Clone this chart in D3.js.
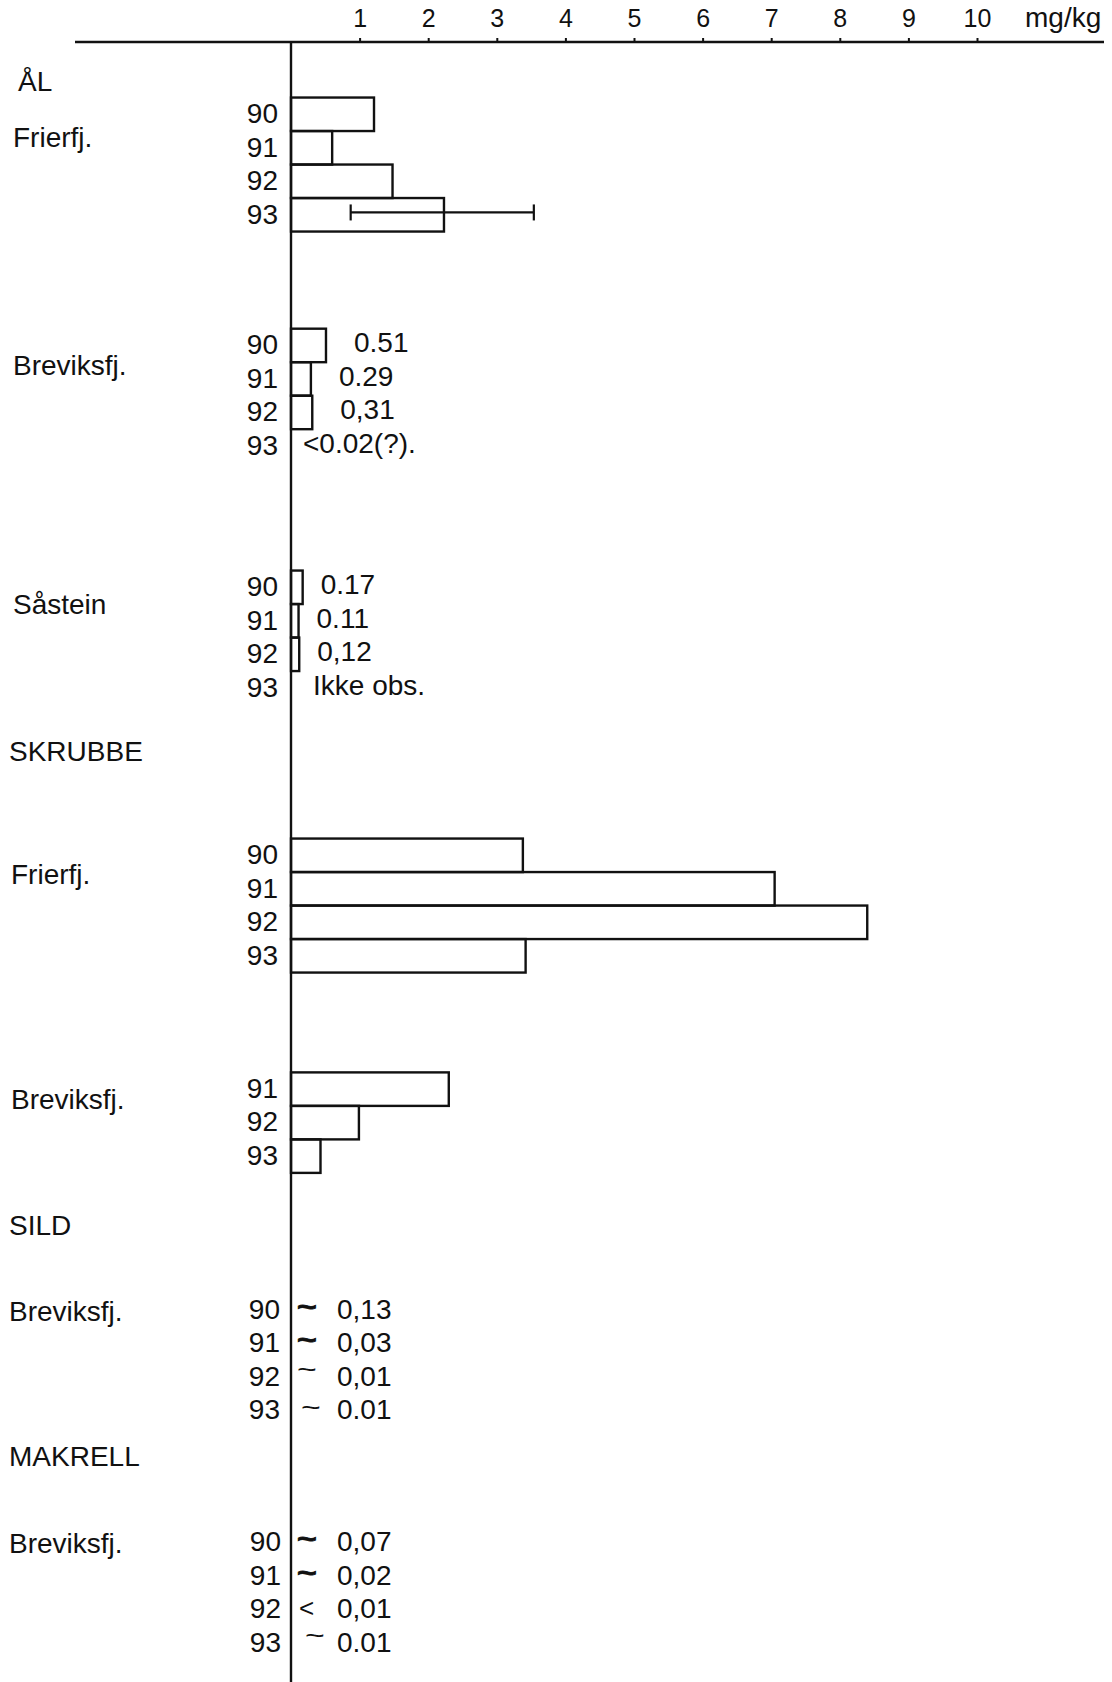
<!DOCTYPE html>
<html>
<head>
<meta charset="utf-8">
<script src="https://cdn.jsdelivr.net/npm/d3@7"></script>
<style>
  body { margin: 0; background: #fff; }
  svg text { font-family: "Liberation Sans", Arial, sans-serif; fill: #111; }
</style>
</head>
<body>
<svg id="chart" width="1112" height="1682"></svg>
<script>
// values (mg/kg)
const tickValues = [1, 2, 3, 4, 5, 6, 7, 8, 9, 10];
const unitLabel = "mg/kg";
const years = ["90", "91", "92", "93"];

const aalFrierfj = [1.21, 0.60, 1.48, 2.23];
const aalFrierfjRange93 = [0.87, 3.54];
const aalBreviksfj = [0.51, 0.29, 0.31, null];
const aalBreviksfjText = ["0.51", "0.29", "0,31", "<0.02(?)."];
const aalSastein = [0.17, 0.11, 0.12, null];
const aalSasteinText = ["0.17", "0.11", "0,12", "Ikke obs."];

const skrubbeFrierfj = [3.38, 7.05, 8.40, 3.42];
const skrubbeBreviksfjYears = ["91", "92", "93"];
const skrubbeBreviksfj = [2.30, 0.99, 0.43];

const sildBreviksfjSign = ["~", "~", "~", "~"];
const sildBreviksfjText = ["0,13", "0,03", "0,01", "0.01"];
const makrellBreviksfjSign = ["~", "~", "<", "~"];
const makrellBreviksfjText = ["0,07", "0,02", "0,01", "0.01"];

// layout: rows are placed on "slots" of one bar height each
const blocks = [
	{head: "ÅL", slot: -0.96, lx: 18},
	{label: "Frierfj.", labelSlot: 0.72, slot: 0, lx: 13, years: years, values: aalFrierfj, range: {row: 3, v: aalFrierfjRange93}},
	{label: "Breviksfj.", labelSlot: 7.52, slot: 6.9, lx: 13, years: years, values: aalBreviksfj, text: aalBreviksfjText, gap: 28, nullGap: 12},
	{label: "Såstein", labelSlot: 14.66, slot: 14.12, lx: 13, years: years, values: aalSastein, text: aalSasteinText, gap: 18, nullGap: 22},
	{head: "SKRUBBE", slot: 19.04, lx: 9},
	{label: "Frierfj.", labelSlot: 22.72, slot: 22.12, lx: 11, years: years, values: skrubbeFrierfj},
	{label: "Breviksfj.", labelSlot: 29.43, slot: 29.1, lx: 11, years: skrubbeBreviksfjYears, values: skrubbeBreviksfj},
	{head: "SILD", slot: 33.19, lx: 9},
	{label: "Breviksfj.", labelSlot: 35.76, slot: 35.7, lx: 9, years: years, signs: sildBreviksfjSign, text: sildBreviksfjText, bold: [1, 1, 0, 0], lift: [0, 0, 5, 0], shift: [0, 0, 0, 4], yearEnd: 280},
	{head: "MAKRELL", slot: 40.09, lx: 9},
	{label: "Breviksfj.", labelSlot: 42.7, slot: 42.63, lx: 9, years: years, signs: makrellBreviksfjSign, text: makrellBreviksfjText, bold: [1, 1, 0, 0], lift: [0, 0, -2, 5], shift: [0, 0, 2, 8], yearEnd: 281}
];

var svg = d3.select("#chart");
var width = +svg.attr("width");
var height = +svg.attr("height");

var x = d3.scaleLinear().domain([0, 10]).range([291, 977]);
var y = d3.scaleLinear().domain([0, 1]).range([123, 156.5]);   // baseline of a row slot

svg.append("rect").attr("width", width).attr("height", height).attr("fill", "#fff");

// top axis
var axis = svg.append("g")
	.attr("transform", "translate(0,42)")
	.call(d3.axisTop(x).tickValues(tickValues).tickSize(4).tickPadding(11).tickFormat(d3.format("d")));
axis.select(".domain").remove();
axis.selectAll(".tick line").attr("stroke", "#111").attr("stroke-width", 2);
axis.selectAll(".tick text").attr("font-size", 25).attr("fill", "#111")
	.style("font-family", "'Liberation Sans', Arial, sans-serif");

svg.append("line")
	.attr("x1", 75).attr("x2", 1104)
	.attr("y1", 42).attr("y2", 42)
	.attr("stroke", "#111").attr("stroke-width", 2.4);
svg.append("text")
	.attr("x", 1025).attr("y", 27)
	.attr("font-size", 28)
	.text(unitLabel);

// vertical zero line
svg.append("line")
	.attr("x1", x(0)).attr("x2", x(0))
	.attr("y1", 42).attr("y2", height)
	.attr("stroke", "#111").attr("stroke-width", 2.4);

blocks.forEach(function(b) {
	if (b.head) {
		svg.append("text").attr("x", b.lx).attr("y", y(b.slot))
			.attr("font-size", 28).text(b.head);
		return;
	}
	svg.append("text").attr("x", b.lx).attr("y", y(b.labelSlot))
		.attr("font-size", 28).text(b.label);

	var g = svg.append("g");
	var rows = b.years.map(function(yr, i) { return {year: yr, i: i, slot: b.slot + i}; });

	g.selectAll(".year").data(rows).enter().append("text")
		.attr("class", "year")
		.attr("x", b.yearEnd || 278)
		.attr("y", function(d) { return y(d.slot); })
		.attr("text-anchor", "end")
		.attr("font-size", 28)
		.text(function(d) { return d.year; });

	if (b.values) {
		var barRows = rows.filter(function(d) { return b.values[d.i] != null; });
		g.selectAll(".bar").data(barRows).enter().append("rect")
			.attr("class", "bar")
			.attr("x", x(0))
			.attr("y", function(d) { return y(d.slot - 0.76); })
			.attr("width", function(d) { return x(b.values[d.i]) - x(0); })
			.attr("height", y(1) - y(0))
			.attr("fill", "none")
			.attr("stroke", "#111")
			.attr("stroke-width", 2.4);
	}

	if (b.range) {
		var ry = y(b.slot + b.range.row - 0.33);
		var r = b.range.v;
		g.append("line").attr("x1", x(r[0])).attr("x2", x(r[1]))
			.attr("y1", ry).attr("y2", ry)
			.attr("stroke", "#111").attr("stroke-width", 2.2);
		r.forEach(function(v) {
			g.append("line").attr("x1", x(v)).attr("x2", x(v))
				.attr("y1", ry - 8).attr("y2", ry + 8)
				.attr("stroke", "#111").attr("stroke-width", 2.2);
		});
	}

	if (b.text && b.values) {
		g.selectAll(".val").data(rows).enter().append("text")
			.attr("class", "val")
			.attr("x", function(d) {
				var v = b.values[d.i];
				return v == null ? x(0) + b.nullGap : x(v) + b.gap;
			})
			.attr("y", function(d) { return y(d.slot) - 2; })
			.attr("font-size", 28)
			.text(function(d) { return b.text[d.i]; });
	}

	if (b.signs) {
		// tildes are stretched sideways so they read as large as the hand-set ones
		g.selectAll(".sign").data(rows).enter().append("text")
			.attr("class", "sign")
			.attr("transform", function(d) {
				var sx = b.signs[d.i] == "<" ? 1 : 1.3;
				return "translate(" + (x(0) + 6 + b.shift[d.i]) + "," + (y(d.slot) - 3 - b.lift[d.i]) + ") scale(" + sx + ",1)";
			})
			.attr("font-size", 26)
			.attr("font-weight", function(d) { return b.bold[d.i] ? "bold" : "normal"; })
			.attr("stroke", function(d) { return b.bold[d.i] ? "#111" : "none"; })
			.attr("stroke-width", 0.8)
			.text(function(d) { return b.signs[d.i]; });
		g.selectAll(".val").data(rows).enter().append("text")
			.attr("class", "val")
			.attr("x", x(0) + 46)
			.attr("y", function(d) { return y(d.slot); })
			.attr("font-size", 28)
			.text(function(d) { return b.text[d.i]; });
	}
});
</script>
</body>
</html>
